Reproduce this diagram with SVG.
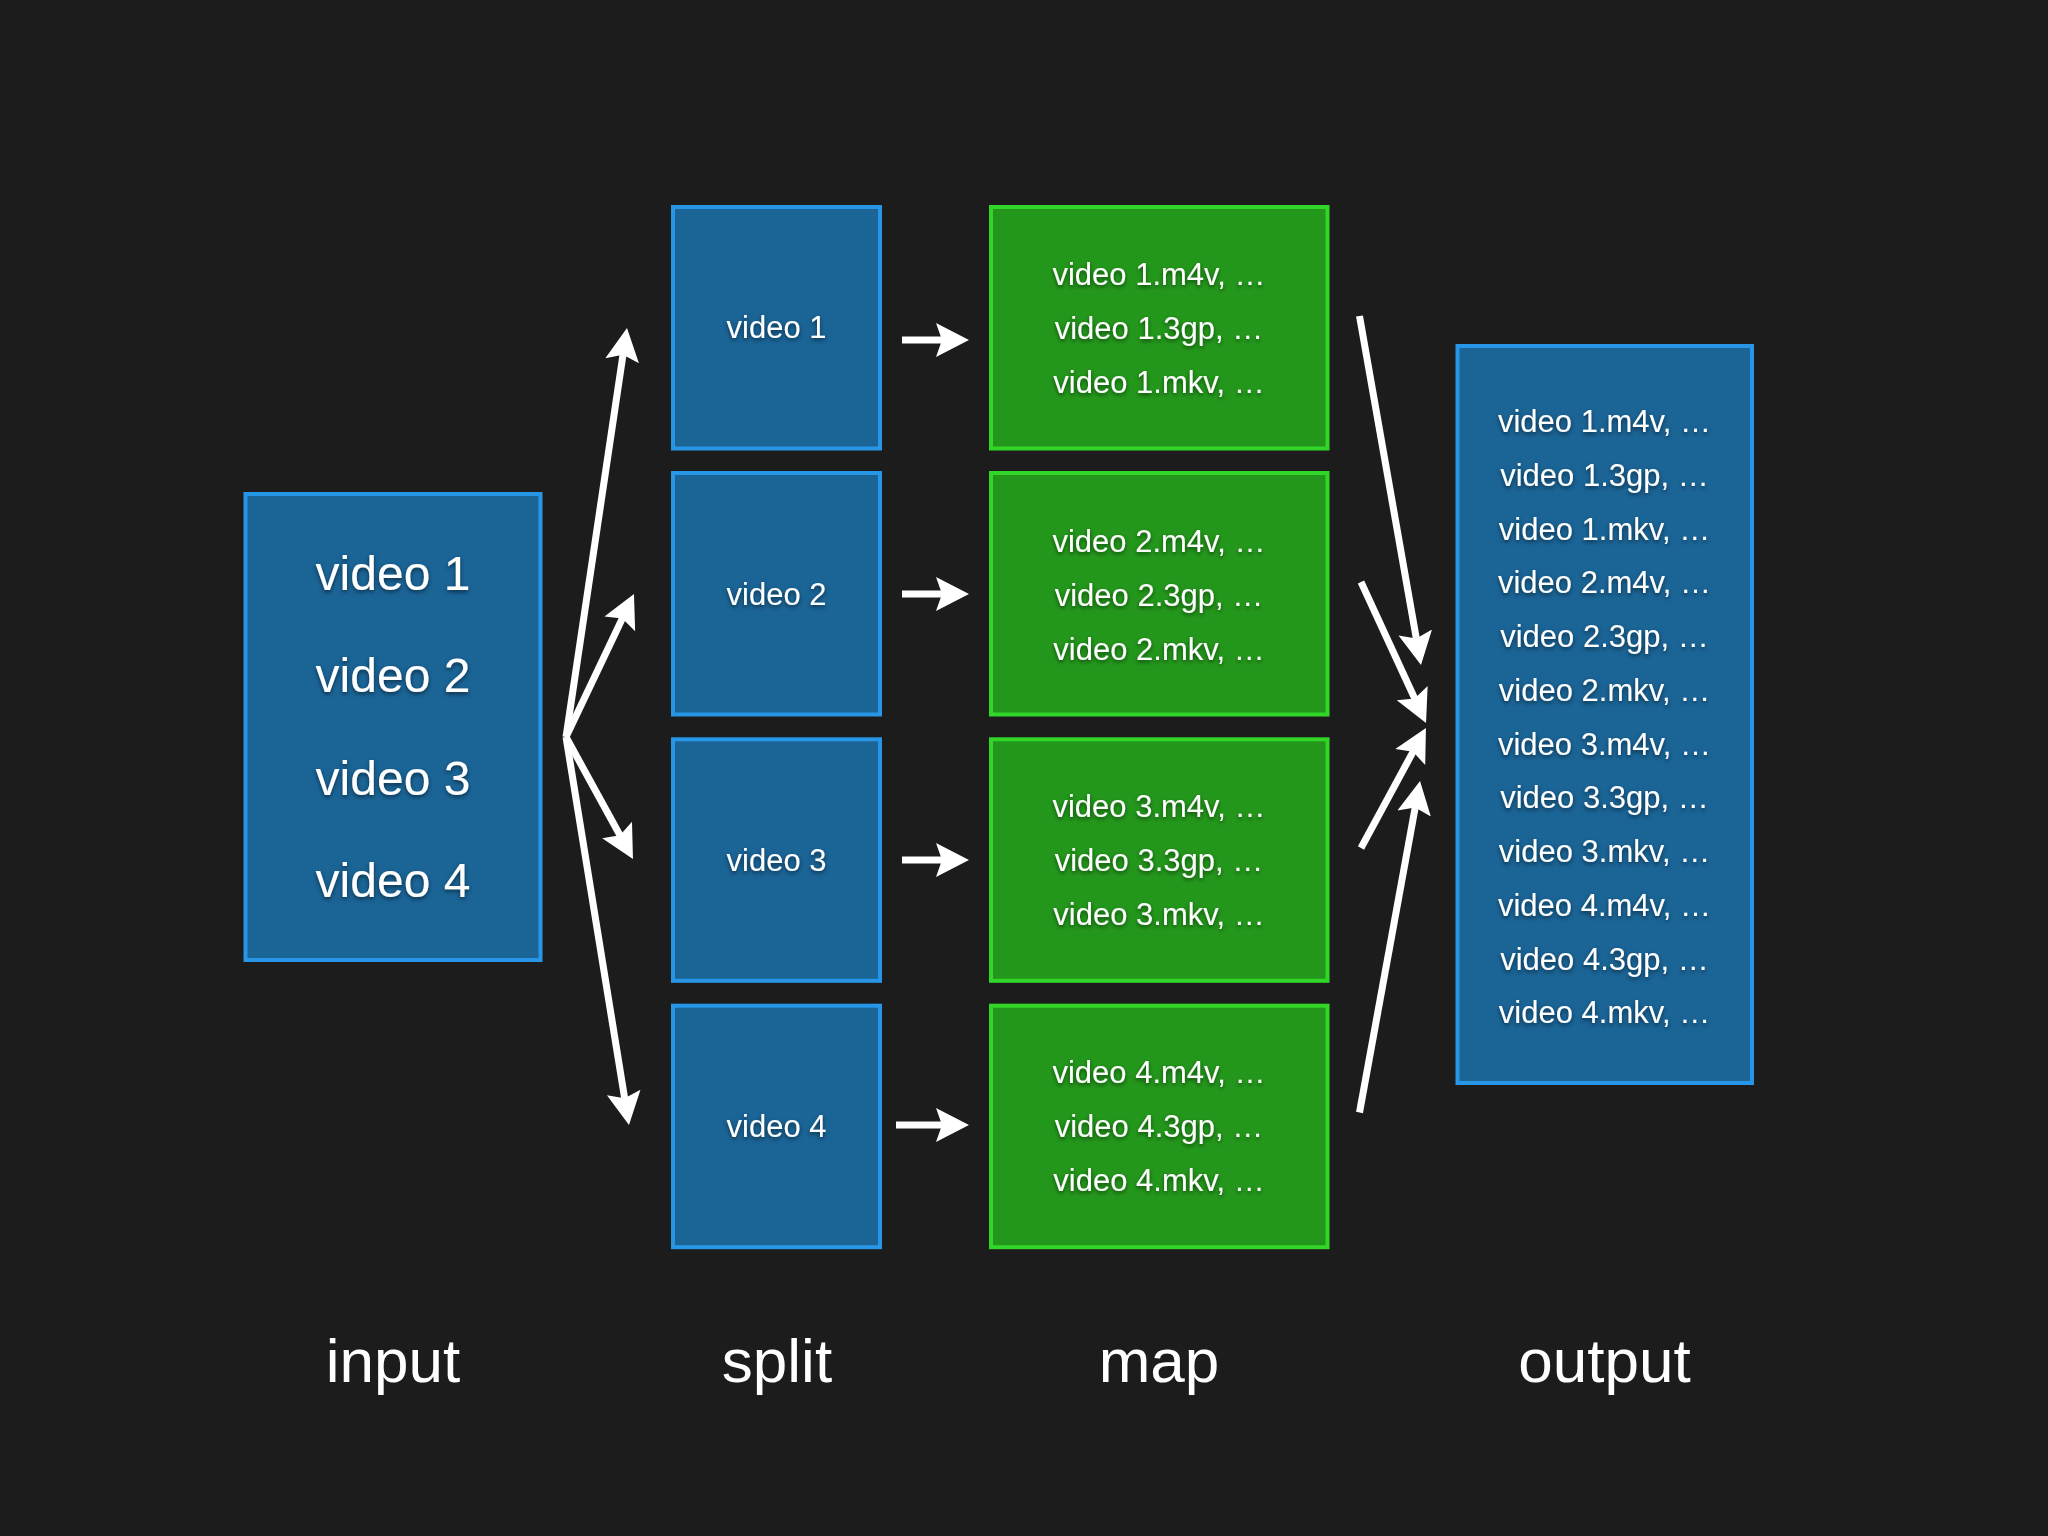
<svg xmlns="http://www.w3.org/2000/svg" width="2048" height="1536" viewBox="0 0 2048 1536">
  <defs>
    <style>
      .blue { fill: #1a6496; stroke: #2896e6; stroke-width: 4; }
      .green { fill: #23971b; stroke: #32d628; stroke-width: 4; }
      .t { font-family: "Liberation Sans", Arial, Helvetica, sans-serif; fill: #ffffff; text-anchor: middle; }
      .big { font-size: 48px; }
      .mid { font-size: 31px; }
      .lbl { font-size: 62px; }
      .sh { filter: url(#shadow); }
      .conn { stroke: #ffffff; stroke-width: 7; fill: none; marker-end: url(#head); }
    </style>
    <filter id="shadow" x="-20%" y="-40%" width="140%" height="180%">
      <feDropShadow dx="0" dy="2" stdDeviation="2" flood-color="#000000" flood-opacity="0.55"/>
    </filter>
    <marker id="head" markerUnits="userSpaceOnUse" viewBox="0 -20 40 40" markerWidth="40" markerHeight="40" refX="10" refY="0" orient="auto">
      <path d="M0,-17 L33,0 L0,17 L6,0 Z" fill="#ffffff"/>
    </marker>
  </defs>

  <rect x="0" y="0" width="2048" height="1536" fill="#1c1c1c"/>

  <g id="input">
    <rect class="blue" x="245.5" y="494" width="295" height="466"/>
    <g class="t big sh">
      <text x="393" y="590">video 1</text>
      <text x="393" y="692">video 2</text>
      <text x="393" y="795">video 3</text>
      <text x="393" y="897">video 4</text>
    </g>
  </g>

  <g id="split1">
    <rect class="blue" x="673" y="207" width="207" height="241.5"/>
    <text class="t mid sh" x="776.5" y="338">video 1</text>
  </g>
  <g id="split2">
    <rect class="blue" x="673" y="473" width="207" height="241.5"/>
    <text class="t mid sh" x="776.5" y="604.5">video 2</text>
  </g>
  <g id="split3">
    <rect class="blue" x="673" y="739.3" width="207" height="241.5"/>
    <text class="t mid sh" x="776.5" y="871">video 3</text>
  </g>
  <g id="split4">
    <rect class="blue" x="673" y="1005.7" width="207" height="241.5"/>
    <text class="t mid sh" x="776.5" y="1137">video 4</text>
  </g>

  <g id="map1">
    <rect class="green" x="991" y="207" width="336.5" height="241.5"/>
    <g class="t mid sh">
      <text x="1159" y="285">video 1.m4v, …</text>
      <text x="1159" y="339">video 1.3gp, …</text>
      <text x="1159" y="393">video 1.mkv, …</text>
    </g>
  </g>
  <g id="map2">
    <rect class="green" x="991" y="473" width="336.5" height="241.5"/>
    <g class="t mid sh">
      <text x="1159" y="551.5">video 2.m4v, …</text>
      <text x="1159" y="605.5">video 2.3gp, …</text>
      <text x="1159" y="659.5">video 2.mkv, …</text>
    </g>
  </g>
  <g id="map3">
    <rect class="green" x="991" y="739.3" width="336.5" height="241.5"/>
    <g class="t mid sh">
      <text x="1159" y="817">video 3.m4v, …</text>
      <text x="1159" y="871">video 3.3gp, …</text>
      <text x="1159" y="925">video 3.mkv, …</text>
    </g>
  </g>
  <g id="map4">
    <rect class="green" x="991" y="1005.7" width="336.5" height="241.5"/>
    <g class="t mid sh">
      <text x="1159" y="1083">video 4.m4v, …</text>
      <text x="1159" y="1137">video 4.3gp, …</text>
      <text x="1159" y="1191">video 4.mkv, …</text>
    </g>
  </g>

  <g id="output">
    <rect class="blue" x="1457.5" y="346" width="294.5" height="737"/>
    <g class="t mid sh">
      <text x="1604.5" y="432">video 1.m4v, …</text>
      <text x="1604.5" y="485.75">video 1.3gp, …</text>
      <text x="1604.5" y="539.5">video 1.mkv, …</text>
      <text x="1604.5" y="593.25">video 2.m4v, …</text>
      <text x="1604.5" y="647">video 2.3gp, …</text>
      <text x="1604.5" y="700.75">video 2.mkv, …</text>
      <text x="1604.5" y="754.5">video 3.m4v, …</text>
      <text x="1604.5" y="808.25">video 3.3gp, …</text>
      <text x="1604.5" y="862">video 3.mkv, …</text>
      <text x="1604.5" y="915.75">video 4.m4v, …</text>
      <text x="1604.5" y="969.5">video 4.3gp, …</text>
      <text x="1604.5" y="1023.25">video 4.mkv, …</text>
    </g>
  </g>

  <g id="connectors">
    <line class="conn" x1="566" y1="737" x2="623.6" y2="350.8"/>
    <line class="conn" x1="566" y1="737" x2="624.1" y2="614.8"/>
    <line class="conn" x1="566" y1="737" x2="621.9" y2="838.8"/>
    <line class="conn" x1="566" y1="737" x2="625.3" y2="1102.3"/>

    <line class="conn" x1="902" y1="340" x2="946" y2="340"/>
    <line class="conn" x1="902" y1="594" x2="946" y2="594"/>
    <line class="conn" x1="902" y1="860" x2="946" y2="860"/>
    <line class="conn" x1="896" y1="1125" x2="946" y2="1125"/>

    <line class="conn" x1="1359.5" y1="316" x2="1417" y2="642.4"/>
    <line class="conn" x1="1361" y1="582" x2="1416.4" y2="702.1"/>
    <line class="conn" x1="1361" y1="848" x2="1415" y2="748.2"/>
    <line class="conn" x1="1359.5" y1="1112.5" x2="1415.9" y2="803.6"/>
  </g>

  <g id="labels" class="t lbl">
    <text x="393" y="1382">input</text>
    <text x="777" y="1382">split</text>
    <text x="1159" y="1382">map</text>
    <text x="1604.5" y="1382">output</text>
  </g>
</svg>
